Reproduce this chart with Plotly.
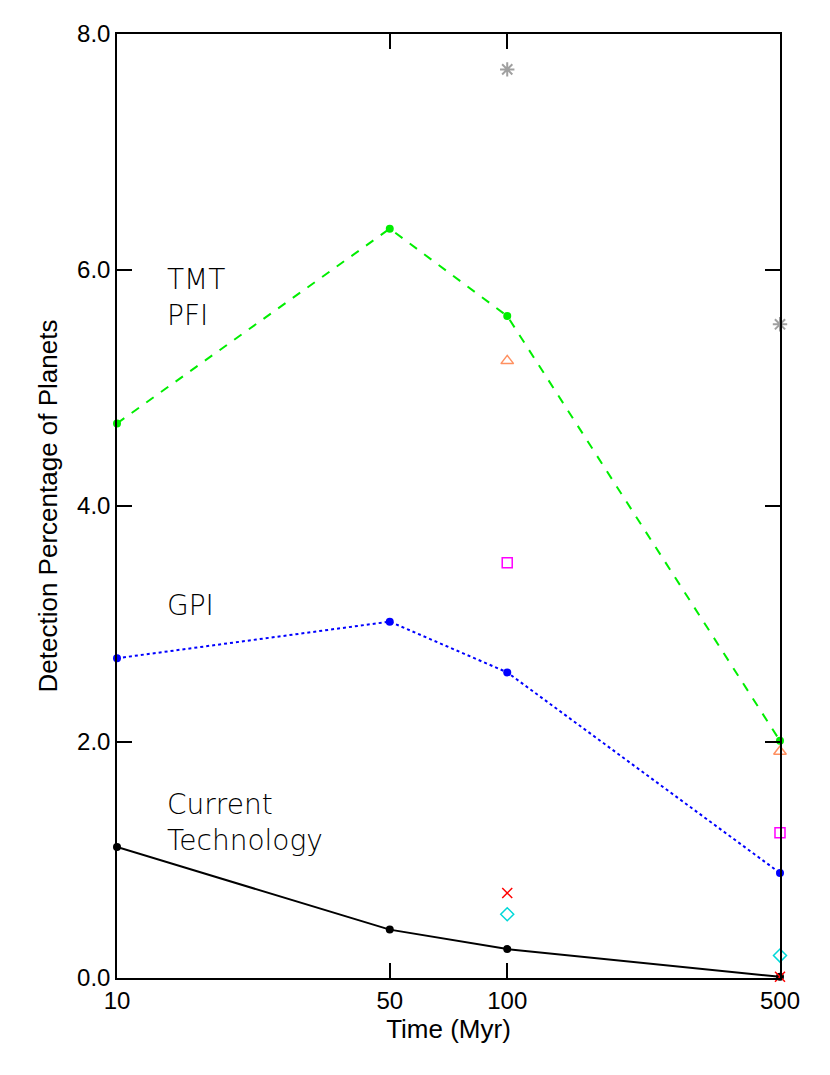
import plotly.graph_objects as go

times = [10, 50, 100, 500]
tmt_pfi = [4.70, 6.35, 5.61, 2.01]
gpi = [2.71, 3.02, 2.59, 0.89]
current = [1.11, 0.41, 0.245, 0.01]

extra_times = [100, 500]
extra_asterisk = [7.70, 5.54]
extra_triangle = [5.23, 1.92]
extra_square = [3.52, 1.23]
extra_x = [0.72, 0.01]
extra_diamond = [0.54, 0.19]

y_ticks = [0, 2, 4, 6, 8]

fig = go.Figure()
fig.add_trace(go.Scatter(x=times, y=tmt_pfi, mode="lines+markers", cliponaxis=False,
                         line=dict(color="#00ee00", width=2, dash="dash"),
                         marker=dict(color="#00ee00", size=8)))
fig.add_trace(go.Scatter(x=times, y=gpi, mode="lines+markers", cliponaxis=False,
                         line=dict(color="#0000ff", width=2, dash="dot"),
                         marker=dict(color="#0000ff", size=8)))
fig.add_trace(go.Scatter(x=times, y=current, mode="lines+markers", cliponaxis=False,
                         line=dict(color="black", width=2),
                         marker=dict(color="black", size=8)))

extras = [
    (extra_asterisk, "asterisk-open", "#a0a0a0", 12, 2),
    (extra_triangle, "triangle-up-open", "#ff9060", 11, 1.5),
    (extra_square, "square-open", "#ff00ff", 10, 1.5),
    (extra_x, "x-thin-open", "#ff0000", 10, 1.5),
    (extra_diamond, "diamond-open", "#00d8d8", 10, 1.5),
]
for vals, sym, col, sz, lw in extras:
    fig.add_trace(go.Scatter(x=extra_times, y=vals, mode="markers", cliponaxis=False,
                             marker=dict(symbol=sym, color=col, size=sz,
                                         line=dict(color=col, width=lw))))

label_font = dict(family="DejaVu Sans", size=28, color="black", weight=200)
labels = [("TMT<br>PFI", 0.7204), ("GPI", 0.3943), ("Current<br>Technology", 0.1644)]
for txt, yp in labels:
    fig.add_annotation(x=0.072, y=yp, xref="paper", yref="paper", text=txt,
                       showarrow=False, xanchor="left", yanchor="middle",
                       align="left", font=label_font)

tick_font = dict(family="Liberation Sans", size=24, color="black")
title_font = dict(family="Liberation Sans", size=26, color="black")
axis_common = dict(showline=True, linecolor="black", linewidth=1.5, mirror="ticks",
                   ticks="inside", ticklen=15, tickwidth=1.5, tickcolor="black",
                   showgrid=False, zeroline=False, tickfont=tick_font)

fig.update_xaxes(type="log", range=[1, 2.6990], tickvals=times,
                 ticktext=[str(t) for t in times],
                 title=dict(text="Time (Myr)", font=title_font, standoff=2),
                 **axis_common)
fig.update_yaxes(range=[0, 8], tickvals=y_ticks, tickformat=".1f",
                 title=dict(text="Detection Percentage of Planets", font=title_font, standoff=12),
                 **axis_common)

fig.update_layout(width=822, height=1067, showlegend=False,
                  plot_bgcolor="white", paper_bgcolor="white",
                  margin=dict(l=109, r=50, t=24, b=97))

fig.write_html("out.html")
